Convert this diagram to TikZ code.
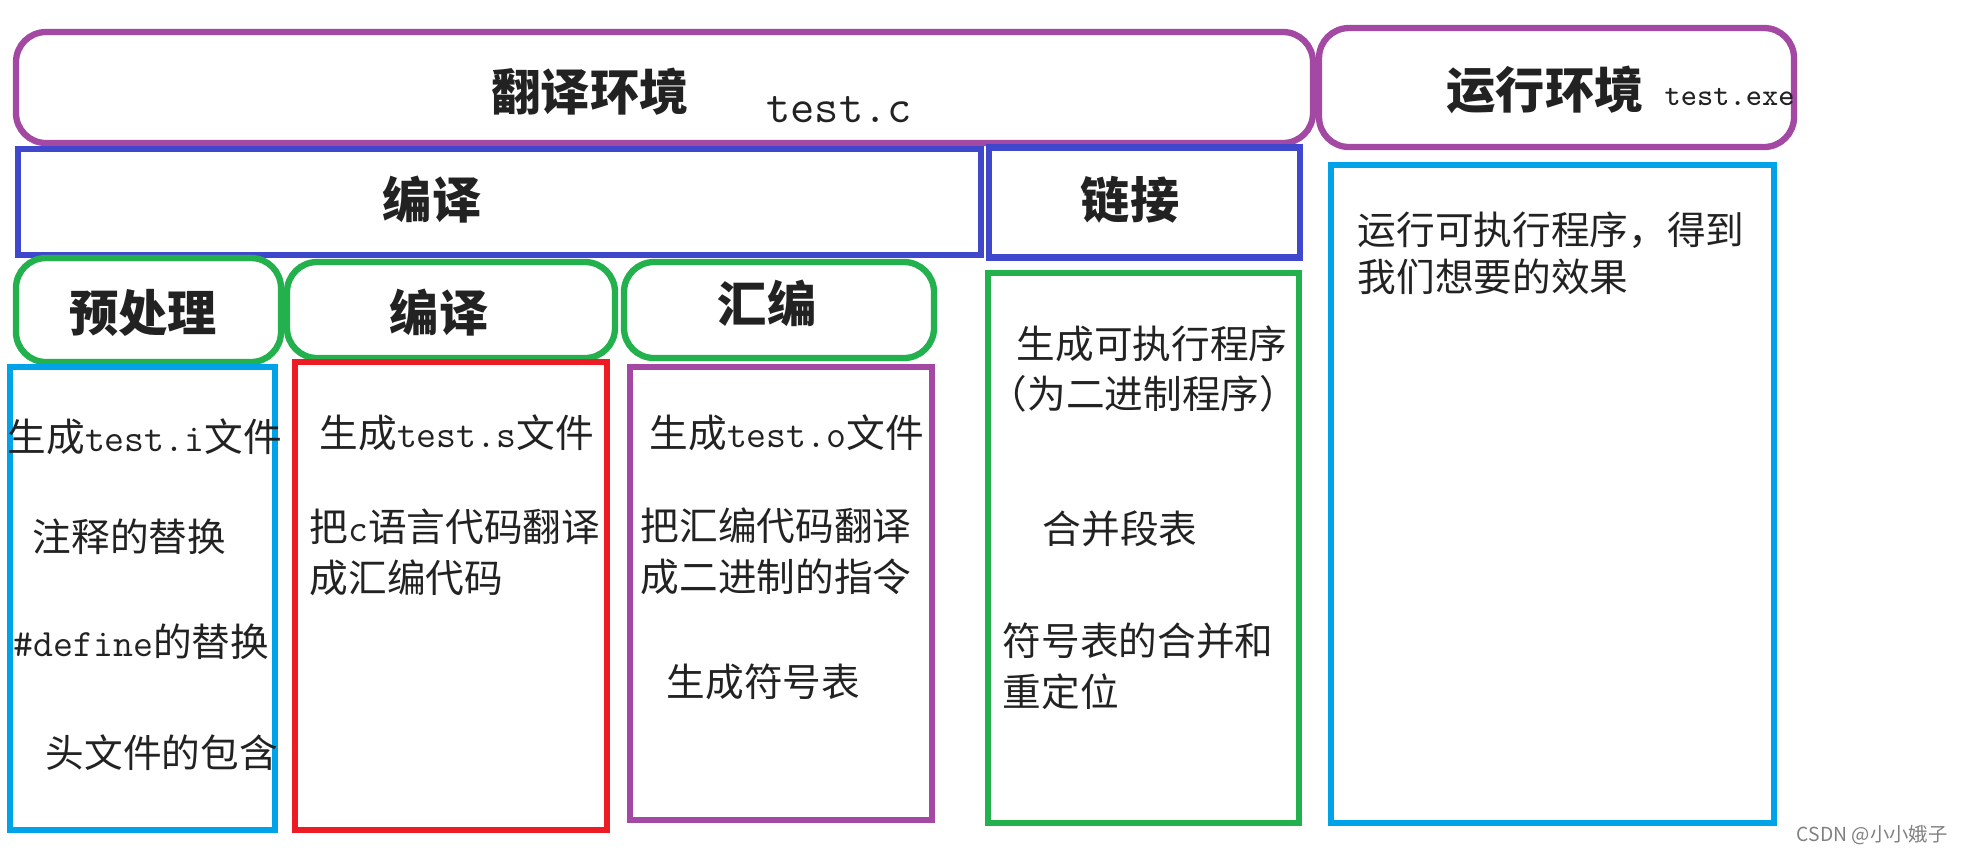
\documentclass[tikz,border=0pt]{standalone}
\usepackage{fontspec}
\setmainfont{Noto Sans CJK SC}
\definecolor{envpurple}{RGB}{163,73,164}
\definecolor{stageblue}{RGB}{63,72,204}
\definecolor{phasegreen}{RGB}{34,177,76}
\definecolor{listcyan}{RGB}{0,162,232}
\definecolor{listred}{RGB}{237,28,36}
\definecolor{inkgray}{RGB}{34,34,34}
\usetikzlibrary{positioning}

\begin{document}
\begin{tikzpicture}[
      frame/.style={draw, line width=1.8pt, inner sep=0pt},
      envbox/.style={frame, draw=envpurple, rounded corners=0.3cm},
      stagebox/.style={frame, draw=stageblue},
      phasebox/.style={frame, draw=phasegreen, rounded corners=0.3cm},
      listbox/.style={frame, draw=#1},
      head/.style={inner sep=0pt, text=inkgray, font=\fontsize{14}{16}\selectfont\bfseries},
      lbl/.style={inner sep=0pt, anchor=west, align=left, text=inkgray, font=\fontsize{11}{14.5}\selectfont}
    ]
      \useasboundingbox (0,0) rectangle (19.64,-8.53);
      \node[envbox, minimum width=12.97cm, minimum height=1.11cm] (trans) at (6.645,-0.875) {};
      \node[envbox, minimum width=4.75cm, minimum height=1.19cm] (run) at (15.565,-0.875) {};
      \node[stagebox, minimum width=9.63cm, minimum height=1.06cm] (comp) at (4.995,-2.02) {};
      \node[stagebox, minimum width=3.11cm, minimum height=1.10cm] (link) at (11.445,-2.025) {};
      \node[phasebox, minimum width=2.65cm, minimum height=1.04cm] (pre) at (1.485,-3.10) {};
      \node[phasebox, minimum width=3.28cm, minimum height=0.96cm] (cc) at (4.51,-3.10) {};
      \node[phasebox, minimum width=3.10cm, minimum height=0.96cm] (as) at (7.79,-3.10) {};
      \node[listbox=listcyan, minimum width=2.65cm, minimum height=4.63cm] (prelist) at (1.425,-5.985) {};
      \node[listbox=listred, minimum width=3.12cm, minimum height=4.68cm] (cclist) at (4.51,-5.96) {};
      \node[listbox=envpurple, minimum width=3.02cm, minimum height=4.53cm] (aslist) at (7.81,-5.935) {};
      \node[listbox=phasegreen, minimum width=3.11cm, minimum height=5.50cm] (linklist) at (11.435,-5.48) {};
      \node[listbox=listcyan, minimum width=4.43cm, minimum height=6.58cm] (runlist) at (15.525,-4.94) {};

      \node[head] (transtxt) at (5.90,-0.92) {翻译环境};
      \node[inner sep=0pt, text=inkgray, font=\fontsize{13.4}{16}\selectfont\ttfamily] (srcfile) at (8.39,-1.10) {test.c};
      \node[head] (runtxt) at (15.45,-0.90) {运行环境};
      \node[inner sep=0pt, anchor=west, text=inkgray, font=\fontsize{8.8}{10}\selectfont\ttfamily] (exefile) at (16.64,-0.97) {test.exe};
      \node[head] (comptxt) at (4.32,-2.00) {编译};
      \node[head] (linktxt) at (11.30,-2.00) {链接};
      \node[head] (pretxt) at (1.43,-3.13) {预处理};
      \node[head] (cctxt) at (4.39,-3.13) {编译};
      \node[head] (astxt) at (7.67,-3.03) {汇编};

      \node[lbl] (pre1) at (0.07,-4.37) {生成\texttt{test.i}文件};
      \node[lbl] (pre2) at (0.32,-5.37) {注释的替换};
      \node[lbl] (pre3) at (0.13,-6.42) {\texttt{\#define}的替换};
      \node[lbl] (pre4) at (0.45,-7.53) {头文件的包含};
      \node[lbl] (cc1) at (3.19,-4.33) {生成\texttt{test.s}文件};
      \node[lbl] (cc2) at (3.09,-5.525) {把\texttt{c}语言代码翻译\\成汇编代码};
      \node[lbl] (as1) at (6.49,-4.33) {生成\texttt{test.o}文件};
      \node[lbl] (as2) at (6.40,-5.51) {把汇编代码翻译\\成二进制的指令};
      \node[lbl] (as3) at (6.66,-6.82) {生成符号表};
      \node[lbl] (link1) at (10.16,-3.44) {生成可执行程序};
      \node[lbl] (link2) at (9.88,-3.94) {（为二进制程序）};
      \node[lbl] (link3) at (10.42,-5.29) {合并段表};
      \node[lbl] (link4) at (10.02,-6.66) {符号表的合并和\\重定位};
      \node[lbl] (run1) at (13.57,-2.535) {运行可执行程序，得到\\[-1.2pt]我们想要的效果};

      \node[inner sep=0pt, anchor=east, text=gray, font=\fontsize{5.5}{6}\selectfont] (mark) at (19.48,-8.35) {CSDN @小小娥子};
    \end{tikzpicture}
\end{document}
